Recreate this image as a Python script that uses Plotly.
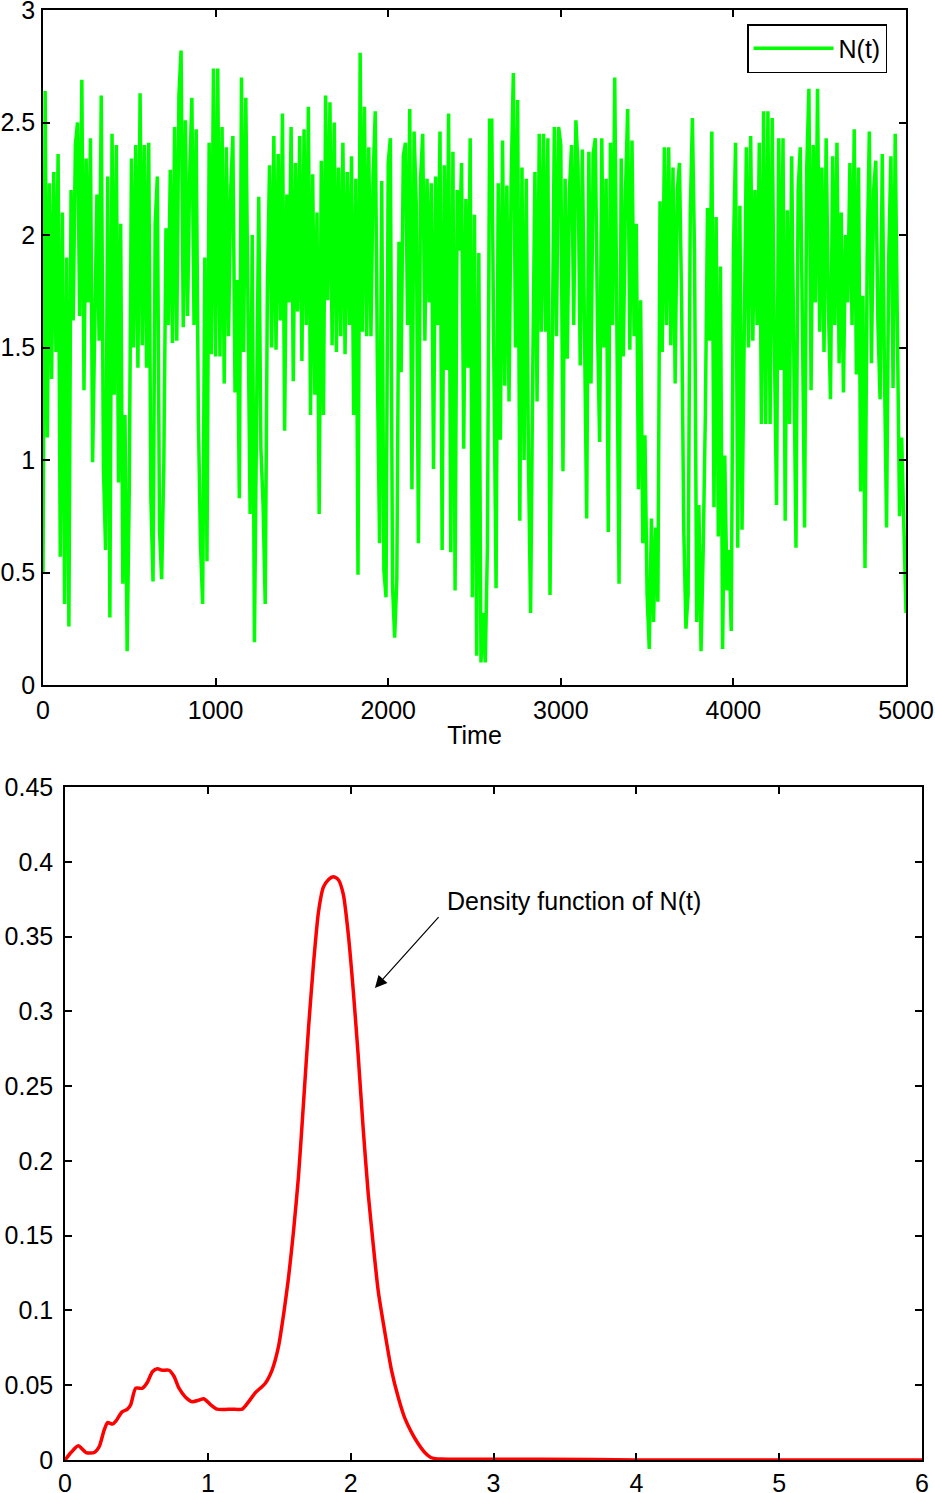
import numpy as np
import plotly.graph_objects as go

# ---------------- data ----------------
time_step = 12.5
n_values = [
    0.50, 2.64, 1.10, 2.23, 1.36, 2.28, 1.48, 2.36,
    0.57, 2.10, 0.36, 1.90, 0.26, 2.20, 1.62, 2.40,
    2.50, 1.64, 2.69, 1.31, 2.34, 1.70, 2.43, 0.99,
    1.60, 2.18, 1.53, 2.62, 0.97, 0.60, 2.26, 0.30,
    2.45, 1.29, 2.40, 0.90, 2.05, 0.45, 1.20, 0.15,
    0.88, 2.34, 1.50, 2.40, 1.41, 2.63, 1.51, 2.40,
    1.41, 2.41, 0.83, 0.46, 2.05, 2.26, 0.69, 0.47,
    0.98, 2.03, 1.60, 2.29, 1.52, 2.48, 1.53, 2.62,
    2.82, 1.59, 2.51, 1.64, 2.27, 2.61, 1.60, 2.47,
    1.20, 0.62, 0.36, 1.90, 0.55, 2.41, 1.47, 2.74,
    1.46, 2.74, 1.46, 2.48, 1.34, 2.39, 1.55, 2.20,
    2.44, 1.30, 1.80, 0.83, 2.70, 1.48, 2.61, 1.48,
    0.76, 2.00, 0.19, 1.20, 2.17, 1.05, 0.80, 0.36,
    1.76, 2.31, 1.50, 2.44, 1.49, 2.36, 1.62, 2.54,
    1.13, 2.18, 1.70, 2.48, 1.35, 2.32, 1.66, 2.44,
    1.44, 2.47, 1.60, 2.57, 1.20, 2.27, 1.29, 2.10,
    0.76, 2.33, 1.20, 2.62, 1.71, 2.59, 1.51, 2.50,
    1.48, 2.30, 1.55, 2.41, 1.47, 2.28, 1.60, 2.35,
    1.20, 2.25, 0.49, 2.81, 1.57, 2.57, 1.55, 2.39,
    1.55, 2.25, 2.55, 1.39, 0.63, 2.24, 0.51, 0.39,
    2.32, 2.43, 0.44, 0.21, 0.47, 1.97, 1.39, 2.35,
    2.41, 1.60, 2.56, 0.87, 2.46, 2.14, 0.63, 2.25,
    2.45, 1.53, 2.25, 1.70, 2.23, 0.96, 2.26, 1.60,
    2.46, 0.60, 2.31, 1.40, 2.54, 0.59, 2.37, 0.42,
    2.20, 1.93, 2.32, 1.05, 2.16, 1.41, 2.43, 0.39,
    2.09, 0.13, 1.92, 0.10, 0.32, 0.10, 0.62, 2.51,
    2.51, 1.40, 0.43, 2.23, 1.09, 2.42, 1.33, 2.22,
    1.26, 2.25, 2.72, 1.50, 2.60, 0.73, 2.30, 1.00,
    2.25, 1.00, 0.32, 1.39, 2.28, 1.26, 2.45, 1.57,
    2.45, 1.57, 2.43, 0.40, 1.50, 2.48, 1.55, 2.48,
    2.40, 0.95, 2.25, 1.45, 2.20, 2.40, 1.60, 2.51,
    2.30, 1.42, 2.38, 1.50, 0.74, 2.37, 1.34, 2.36,
    2.43, 1.60, 1.08, 2.43, 1.50, 2.25, 0.68, 2.41,
    1.60, 2.70, 1.40, 0.45, 2.34, 1.46, 2.20, 2.56,
    1.49, 2.42, 1.55, 2.05, 0.87, 1.71, 0.63, 1.11,
    0.40, 0.16, 0.74, 0.28, 0.70, 0.37, 2.15, 1.48,
    2.39, 1.60, 2.39, 1.51, 2.30, 1.34, 2.20, 2.32,
    1.70, 0.69, 0.25, 0.40, 2.09, 2.52, 1.90, 0.28,
    0.80, 0.15, 0.60, 1.20, 2.12, 1.53, 2.46, 0.79,
    2.08, 0.66, 1.86, 0.16, 1.02, 0.42, 0.60, 0.24,
    1.92, 2.41, 0.61, 2.13, 0.69, 1.60, 2.39, 1.50,
    2.44, 1.53, 2.20, 1.60, 2.41, 1.16, 2.55, 1.16,
    2.55, 1.16, 2.52, 1.50, 0.80, 2.43, 1.40, 2.43,
    0.73, 2.11, 1.16, 2.35, 1.40, 0.61, 2.20, 2.39,
    1.60, 0.70, 2.30, 2.65, 1.31, 2.40, 1.70, 2.65,
    1.57, 2.30, 1.48, 2.43, 1.70, 1.27, 2.35, 1.60,
    2.41, 1.43, 2.10, 1.30, 2.00, 1.70, 2.32, 1.60,
    2.47, 1.38, 2.30, 0.86, 1.73, 0.52, 1.90, 2.46,
    1.43, 2.20, 2.33, 1.60, 1.27, 2.36, 1.40, 0.70,
    1.90, 2.35, 1.32, 2.45, 1.60, 0.75, 1.10, 0.70,
    0.32,
]
time = np.arange(len(n_values)) * time_step

density_x = [0.0, 0.042, 0.093, 0.147, 0.205, 0.24, 0.274, 0.298, 0.333, 0.356,
             0.398, 0.437, 0.46, 0.495, 0.542, 0.577, 0.612, 0.647, 0.681, 0.728,
             0.763, 0.798, 0.844, 0.891, 0.937, 0.972, 1.019, 1.065, 1.17, 1.24,
             1.286, 1.333, 1.40, 1.449, 1.495, 1.530, 1.565, 1.600, 1.635, 1.670,
             1.705, 1.740, 1.774, 1.809, 1.844, 1.879, 1.914, 1.949, 1.984, 2.019,
             2.053, 2.088, 2.123, 2.158, 2.193, 2.240, 2.286, 2.333, 2.379, 2.426,
             2.472, 2.519, 2.565, 2.635, 3.0, 3.7, 4.0, 5.0, 6.0]
density_y = [0.0, 0.005, 0.0095, 0.005, 0.005, 0.009, 0.020, 0.025, 0.024, 0.026,
             0.032, 0.034, 0.037, 0.048, 0.048, 0.052, 0.059, 0.061, 0.060, 0.060,
             0.056, 0.048, 0.042, 0.039, 0.040, 0.041, 0.037, 0.034, 0.034, 0.034,
             0.039, 0.045, 0.051, 0.060, 0.076, 0.097, 0.122, 0.153, 0.190, 0.239,
             0.289, 0.332, 0.366, 0.383, 0.388, 0.390, 0.388, 0.378, 0.351, 0.313,
             0.270, 0.221, 0.178, 0.144, 0.113, 0.085, 0.060, 0.042, 0.028, 0.0185,
             0.011, 0.005, 0.0015, 0.0006, 0.0005, 0.0004, 0.0, 0.0, 0.0]

x1_ticks = [0, 1000, 2000, 3000, 4000, 5000]
y1_ticks = [0, 0.5, 1, 1.5, 2, 2.5, 3]
y1_labels = ["0", "0.5", "1", "1.5", "2", "2.5", "3"]
x2_ticks = [0, 1, 2, 3, 4, 5, 6]
y2_ticks = [0, 0.05, 0.1, 0.15, 0.2, 0.25, 0.3, 0.35, 0.4, 0.45]
y2_labels = ["0", "0.05", "0.1", "0.15", "0.2", "0.25", "0.3", "0.35", "0.4", "0.45"]

# ---------------- figure ----------------
W, H = 935, 1493
FONT = "Liberation Sans, Arial, Helvetica, sans-serif"


def dx(px):
    return px / W


def dy(py):
    return 1 - py / H


fig = go.Figure()
fig.add_trace(go.Scatter(x=time, y=n_values, mode="lines", name="N(t)",
                         line=dict(color="#00ff00", width=3.5),
                         xaxis="x", yaxis="y"))
fig.add_trace(go.Scatter(x=density_x, y=density_y, mode="lines", name="density",
                         line=dict(color="#ff0000", width=3.5, shape="spline", smoothing=0.6),
                         showlegend=False, xaxis="x2", yaxis="y2"))

axis_common = dict(showline=True, linecolor="black", linewidth=1.5, mirror="ticks",
                   ticks="inside", ticklen=7, tickwidth=1.5, tickcolor="black",
                   showgrid=False, zeroline=False, automargin=False,
                   ticklabeloverflow="allow",
                   tickfont=dict(family=FONT, size=25, color="black"))

fig.update_layout(
    width=W, height=H,
    margin=dict(l=0, r=0, t=0, b=0),
    paper_bgcolor="white", plot_bgcolor="white",
    font=dict(family=FONT, color="black"),
    xaxis=dict(domain=[dx(43), dx(906)], anchor="y", range=[0, 5000],
               tickvals=x1_ticks, ticklabelstandoff=2,
               title=dict(text="Time", font=dict(family=FONT, size=25), standoff=4),
               **axis_common),
    yaxis=dict(domain=[dy(685), dy(10)], anchor="x", range=[0, 3],
               tickvals=y1_ticks, ticktext=y1_labels, ticklabelstandoff=1, **axis_common),
    xaxis2=dict(domain=[dx(65), dx(922)], anchor="y2", range=[0, 6],
                tickvals=x2_ticks, ticklabelstandoff=0, **axis_common),
    yaxis2=dict(domain=[dy(1460), dy(787)], anchor="x2", range=[0, 0.45],
                tickvals=y2_ticks, ticktext=y2_labels, ticklabelstandoff=5, **axis_common),
    legend=dict(x=dx(887), y=dy(24), xanchor="right", yanchor="top",
                bgcolor="white", bordercolor="black", borderwidth=1.5,
                itemwidth=80,
                font=dict(family=FONT, size=25, color="black")),
    showlegend=True,
)

fig.add_annotation(x=2.17, y=0.3156, ax=2.625, ay=0.364, xref="x2", yref="y2",
                   axref="x2", ayref="y2", text="", showarrow=True,
                   arrowhead=2, arrowsize=2, arrowwidth=1.2, arrowcolor="black")
fig.add_annotation(x=2.66, y=0.374, xref="x2", yref="y2", text="Density function of N(t)",
                   showarrow=False, xanchor="left", yanchor="middle",
                   font=dict(family=FONT, size=25, color="black"))

# remove the browser's default page margin so the figure sits at the window origin
fig.write_html("out.html", config={"displayModeBar": False},
               post_script="document.body.style.margin='0';")
